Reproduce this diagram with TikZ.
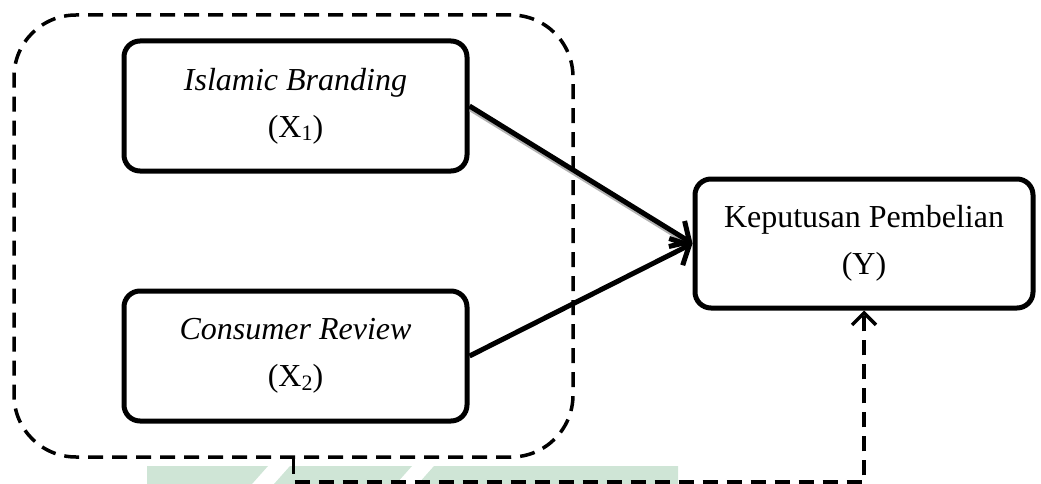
\documentclass[tikz,border=0pt]{standalone}
\usepackage{fontspec}
\setmainfont{Liberation Serif}
\usetikzlibrary{arrows.meta}
\definecolor{wmgreen}{HTML}{CFE5D6}
\newcommand{\subdig}[1]{\raisebox{-0.25ex}{\fontsize{22}{22}\selectfont #1}}
\tikzset{
  varbox/.style={draw=black, line width=5pt, rounded corners=16pt, minimum width=343pt, minimum height=130pt, align=center, inner sep=0pt, font=\fontsize{32}{47}\selectfont},
  grpbox/.style={draw=black, line width=3.5pt, dash pattern=on 15pt off 9pt, rounded corners=62pt, minimum width=559pt, minimum height=442pt, inner sep=0pt},
  solidarrow/.style={line width=5pt, -{Straight Barb[length=15pt,width=30pt,line width=5pt]}},
  dasharrow/.style={line width=3.5pt, dash pattern=on 15pt off 9pt, -{Straight Barb[length=12pt,width=24pt,line width=3.5pt]}},
}
\begin{document}
\begin{tikzpicture}[x=1pt,y=-1pt]
\useasboundingbox (0,0) rectangle (1041,484);
% faint watermark band
\fill[wmgreen] (147,466) -- (268,466) -- (252,484) -- (147,484) -- cycle;
\fill[wmgreen] (290,466) -- (412,466) -- (396,484) -- (274,484) -- cycle;
\fill[wmgreen] (434,466) -- (678,466) -- (678,484) -- (418,484) -- cycle;
% group
\node[grpbox] (grp) at (293.5,236) {};
% variables
\node[varbox] (x1) at (295.5,106) {\textit{Islamic Branding}\\(X\subdig{1})};
\node[varbox] (x2) at (295.5,356) {\textit{Consumer Review}\\(X\subdig{2})};
\node[varbox, minimum width=338pt, minimum height=129pt] (y) at (864,243.5) {Keputusan Pembelian\\(Y)};
% shadow of first arrow
\draw[line width=5pt, gray!60, shorten >=8pt] ([shift={(1,3)}]x1.east) -- ([shift={(1,3)}]y.west);
% arrows
\draw[solidarrow] (x1.east) -- (y.west);
\draw[solidarrow] (x2.east) -- (y.west);
\coordinate (fb) at ([yshift=-23pt]grp.south);
\draw[dasharrow] (grp.south) -- (fb) -| (y.south);
\end{tikzpicture}
\end{document}
